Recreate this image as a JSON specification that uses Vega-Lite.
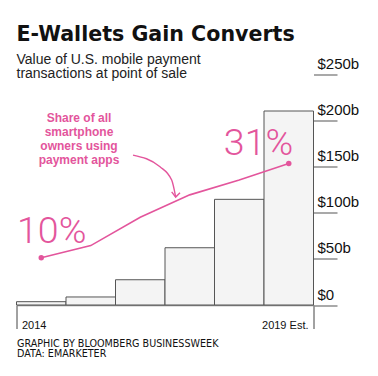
{
  "$schema": "https://vega.github.io/schema/vega-lite/v6.json",
  "width": 297,
  "height": 230.5,
  "autosize": "none",
  "padding": {"left": 16.5, "top": 74.5, "right": 64.5, "bottom": 71},
  "background": "white",
  "title": {
    "text": "E-Wallets Gain Converts",
    "subtitle": ["Value of U.S. mobile payment", "transactions at point of sale"],
    "anchor": "start",
    "frame": "group",
    "font": "DejaVu Sans",
    "fontSize": 20.6,
    "fontWeight": "bold",
    "color": "#111111",
    "subtitleFont": "Liberation Sans",
    "subtitleFontSize": 14,
    "subtitleColor": "#222222",
    "subtitleLineHeight": 14,
    "subtitlePadding": 7,
    "offset": -24
  },
  "datasets": {
    "payments": [
      {"year": 2014, "value": 3.6, "share": 0.10},
      {"year": 2015, "value": 8.7, "share": 0.127},
      {"year": 2016, "value": 27.4, "share": 0.19},
      {"year": 2017, "value": 62.1, "share": 0.24},
      {"year": 2018, "value": 114.6, "share": 0.273},
      {"year": 2019, "value": 210.4, "share": 0.31}
    ],
    "bigLabels": [
      {"note": "10%", "year": 2014.211, "share": 0.132},
      {"note": "31%", "year": 2018.389, "share": 0.3285}
    ],
    "callout": [
      {"note": "Share of all\nsmartphone\nowners using\npayment apps", "year": 2014.763, "share": 0.4026}
    ],
    "arrow": [
      {"year": 2015.854, "share": 0.3286},
      {"year": 2016.399, "share": 0.3025},
      {"year": 2016.635, "share": 0.2729},
      {"year": 2016.716, "share": 0.235}
    ],
    "arrowhead": [
      {"year": 2016.635, "share": 0.2468},
      {"year": 2016.716, "share": 0.235},
      {"year": 2016.803, "share": 0.2446}
    ]
  },
  "layer": [
    {
      "data": {"name": "payments"},
      "mark": {"type": "bar", "orient": "vertical", "width": 49.5, "fill": "#f4f4f4", "stroke": "#555555", "strokeWidth": 1},
      "encoding": {
        "x": {
          "field": "year",
          "type": "quantitative",
          "scale": {"domain": [2013.5, 2019.5], "nice": false, "zero": false, "padding": 0},
          "axis": {
            "values": [2013.5, 2019.5],
            "labelExpr": "datum.value < 2016 ? '2014' : '2019 Est.'",
            "domainColor": "#8c8c8c",
            "domainWidth": 1.5,
            "tickColor": "#444444",
            "tickWidth": 1,
            "tickSize": 23.5,
            "labelFont": "Liberation Sans",
            "labelFontSize": 11,
            "labelColor": "#111111",
            "labelBaseline": "alphabetic",
            "labelPadding": 0,
            "labelAlign": {"condition": {"test": "datum.value < 2016", "value": "left"}, "value": "right"},
            "labelOffset": {"condition": {"test": "datum.value < 2016", "value": 5}, "value": -5.5},
            "labelFlush": false,
            "labelOverlap": false,
            "labelBound": false,
            "grid": false,
            "title": ["GRAPHIC BY BLOOMBERG BUSINESSWEEK", "DATA: EMARKETER"],
            "titleFont": "DejaVu Sans",
            "titleFontSize": 9.6,
            "titleFontWeight": "normal",
            "titleColor": "#111111",
            "titleAnchor": "start",
            "titleAlign": "left",
            "titleBaseline": "alphabetic",
            "titleX": 0,
            "titleY": 41.5,
            "titleLineHeight": 9.8
          }
        },
        "y": {
          "field": "value",
          "type": "quantitative",
          "scale": {"domain": [0, 250], "nice": false},
          "axis": {
            "orient": "right",
            "values": [0, 50, 100, 150, 200, 250],
            "labelExpr": "'$' + datum.value + (datum.value == 0 ? '' : 'b')",
            "domain": false,
            "grid": false,
            "tickColor": "#8c8c8c",
            "tickWidth": 1.5,
            "tickSize": 23.5,
            "labelAlign": "left",
            "labelBaseline": "alphabetic",
            "labelPadding": -20,
            "labelOffset": -6,
            "labelFont": "Liberation Sans",
            "labelFontSize": 15,
            "labelColor": "#111111",
            "labelFlush": false,
            "labelOverlap": false,
            "labelBound": false,
            "title": null
          }
        }
      }
    },
    {
      "layer": [
        {
          "data": {"name": "payments"},
          "mark": {"type": "line", "color": "#e3559c", "strokeWidth": 1.6},
          "encoding": {
            "x": {"field": "year", "type": "quantitative"},
            "y": {"field": "share", "type": "quantitative", "scale": {"domain": [-0.0052, 0.508], "nice": false, "zero": false}, "axis": null}
          }
        },
        {
          "data": {"name": "payments"},
          "transform": [{"filter": "datum.year == 2014 || datum.year == 2019"}],
          "mark": {"type": "circle", "color": "#e3559c", "size": 30, "opacity": 1},
          "encoding": {
            "x": {"field": "year", "type": "quantitative"},
            "y": {"field": "share", "type": "quantitative", "axis": null}
          }
        },
        {
          "data": {"name": "bigLabels"},
          "mark": {"type": "text", "font": "Roboto", "fontWeight": 300, "fontSize": 37.5, "color": "#e3559c", "align": "center", "baseline": "alphabetic"},
          "encoding": {
            "x": {"field": "year", "type": "quantitative"},
            "y": {"field": "share", "type": "quantitative", "axis": null},
            "text": {"field": "note"}
          }
        },
        {
          "data": {"name": "callout"},
          "mark": {"type": "text", "font": "Liberation Sans", "fontWeight": "bold", "fontSize": 12, "lineHeight": 14.2, "lineBreak": "\n", "color": "#e3559c", "align": "center", "baseline": "alphabetic"},
          "encoding": {
            "x": {"field": "year", "type": "quantitative"},
            "y": {"field": "share", "type": "quantitative", "axis": null},
            "text": {"field": "note"}
          }
        },
        {
          "data": {"name": "arrow"},
          "mark": {"type": "line", "interpolate": "monotone", "color": "#e3559c", "strokeWidth": 1.4},
          "encoding": {
            "x": {"field": "year", "type": "quantitative"},
            "y": {"field": "share", "type": "quantitative", "axis": null}
          }
        },
        {
          "data": {"name": "arrowhead"},
          "mark": {"type": "line", "color": "#e3559c", "strokeWidth": 1.4},
          "encoding": {
            "x": {"field": "year", "type": "quantitative"},
            "y": {"field": "share", "type": "quantitative", "axis": null}
          }
        }
      ]
    }
  ],
  "resolve": {"scale": {"y": "independent"}},
  "config": {"view": {"stroke": null}}
}
